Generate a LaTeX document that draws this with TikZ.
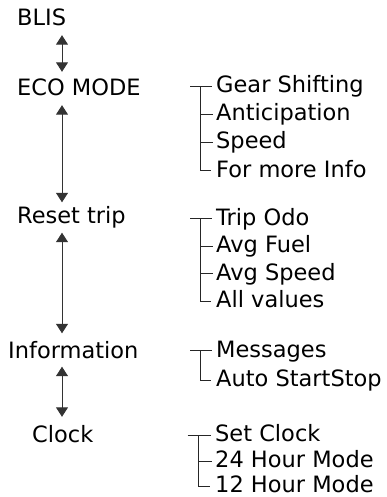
\documentclass[tikz,border=0pt]{standalone}
\usepackage{fontspec}
\setmainfont{DejaVu Sans}
\usetikzlibrary{arrows.meta}
\tikzset{
  lbl/.style={anchor=base west,inner sep=0pt,text height=16pt,text depth=5pt,font=\fontsize{22.5}{27}\selectfont},
  itm/.style={anchor=base west,inner sep=0pt,font=\fontsize{22.5}{27}\selectfont},
  br/.style={line width=0.9pt,black!85},
  nav/.style={line width=1pt,black!80,{Triangle[length=9.5pt,width=12pt]}-{Triangle[length=9.5pt,width=12pt]},shorten <=4pt,shorten >=8pt}
}
\begin{document}
\begin{tikzpicture}[x=1pt,y=-1pt]
\useasboundingbox (0,0) rectangle (386,497);
% left column
\node[lbl] (blis) at (17,26) {BLIS};
\node[lbl] (eco) at (17,96) {ECO MODE};
\node[lbl] (reset) at (17,223.5) {Reset trip};
\node[lbl] (info) at (8,358.5) {Information};
\node[lbl] (clock) at (32,442) {Clock};
\coordinate (ax) at (62,0);
\draw[nav] (blis.south -| ax) -- (eco.north -| ax);
\draw[nav,shorten >=5pt] (eco.south -| ax) -- (reset.north -| ax);
\draw[nav,shorten >=9pt] (reset.south -| ax) -- (info.north -| ax);
\draw[nav,shorten <=3pt,shorten >=9pt] (info.south -| ax) -- (clock.north -| ax);
% eco items
\node[itm] (g1) at (216,93) {Gear Shifting};
\node[itm] (g2) at (216,121) {Anticipation};
\node[itm] (g3) at (216,149) {Speed};
\node[itm] (g4) at (216,177) {For more Info};
\draw[br] ([xshift=-26pt,yshift=6.5pt]g1.base west) -- ([xshift=-4pt,yshift=6.5pt]g1.base west);
\draw[br] ([xshift=-15.5pt,yshift=6.5pt]g1.base west) |- ([xshift=-5pt,yshift=6.5pt]g4.base west);
\draw[br] ([xshift=-15.5pt,yshift=6.5pt]g2.base west) -- ([xshift=-3pt,yshift=6.5pt]g2.base west);
\draw[br] ([xshift=-15.5pt,yshift=6.5pt]g3.base west) -- ([xshift=-3pt,yshift=6.5pt]g3.base west);
% reset items
\node[itm] (r1) at (216,225) {Trip Odo};
\node[itm] (r2) at (216,252.5) {Avg Fuel};
\node[itm] (r3) at (216,280) {Avg Speed};
\node[itm] (r4) at (216,307.5) {All values};
\draw[br] ([xshift=-26pt,yshift=6.5pt]r1.base west) -- ([xshift=-4pt,yshift=6.5pt]r1.base west);
\draw[br] ([xshift=-15.5pt,yshift=6.5pt]r1.base west) |- ([xshift=-5pt,yshift=6.5pt]r4.base west);
\draw[br] ([xshift=-15.5pt,yshift=6.5pt]r2.base west) -- ([xshift=-3pt,yshift=6.5pt]r2.base west);
\draw[br] ([xshift=-15.5pt,yshift=6.5pt]r3.base west) -- ([xshift=-3pt,yshift=6.5pt]r3.base west);
% information items
\node[itm] (m1) at (216,357) {Messages};
\node[itm] (m2) at (216,386.5) {Auto StartStop};
\draw[br] ([xshift=-26pt,yshift=6.5pt]m1.base west) -- ([xshift=-4pt,yshift=6.5pt]m1.base west);
\draw[br] ([xshift=-15.5pt,yshift=6.5pt]m1.base west) |- ([xshift=-5pt,yshift=6.5pt]m2.base west);
% clock items
\node[itm] (c1) at (215,441.5) {Set Clock};
\node[itm] (c2) at (215,467.5) {24 Hour Mode};
\node[itm] (c3) at (215,492.5) {12 Hour Mode};
\draw[br] ([xshift=-27.5pt,yshift=6.5pt]c1.base west) -- ([xshift=-4pt,yshift=6.5pt]c1.base west);
\draw[br] ([xshift=-16.7pt,yshift=6.5pt]c1.base west) |- ([xshift=-5pt,yshift=6.5pt]c3.base west);
\draw[br] ([xshift=-16.7pt,yshift=6.5pt]c2.base west) -- ([xshift=-3pt,yshift=6.5pt]c2.base west);
\end{tikzpicture}
\end{document}
